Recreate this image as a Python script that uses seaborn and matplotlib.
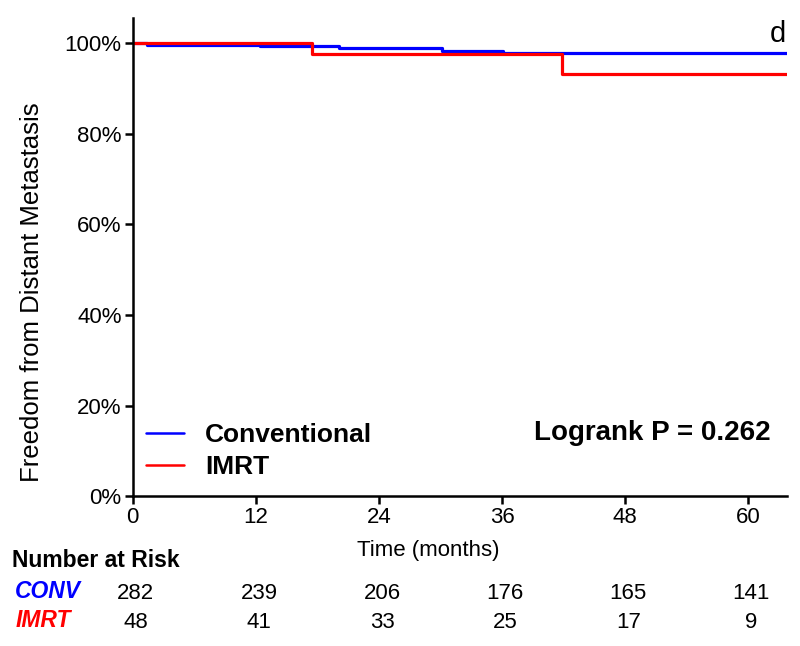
import numpy as np
import pandas as pd
import matplotlib
matplotlib.use("Agg")
import matplotlib.pyplot as plt
import seaborn as sns
from matplotlib.ticker import PercentFormatter

# Kaplan-Meier step points (months, survival fraction)
conv_time = [0, 1.4, 12.4, 20.1, 30.1, 36.1, 63.8]
conv_surv = [1.0, 0.996, 0.993, 0.989, 0.983, 0.978, 0.978]
imrt_time = [0, 17.5, 41.8, 63.8]
imrt_surv = [1.0, 0.975, 0.932, 0.932]

risk_times = [0, 12, 24, 36, 48, 60]
conv_risk = [282, 239, 206, 176, 165, 141]
imrt_risk = [48, 41, 33, 25, 17, 9]

sns.set_theme(style="ticks")
plt.rcParams['font.family'] = ['Liberation Sans', 'DejaVu Sans']
plt.rcParams['text.color'] = 'black'
plt.rcParams['axes.labelcolor'] = 'black'

df = pd.concat([
    pd.DataFrame({"time": conv_time, "surv": conv_surv, "group": "Conventional"}),
    pd.DataFrame({"time": imrt_time, "surv": imrt_surv, "group": "IMRT"}),
])

fig = plt.figure(figsize=(8, 6.46), dpi=100)
ax = fig.add_axes([0.166, 0.232, 0.818, 0.740])

sns.lineplot(data=df, x="time", y="surv", hue="group",
             palette={"Conventional": "#0000ff", "IMRT": "#ff0000"},
             drawstyle="steps-post", linewidth=2.3, ax=ax, estimator=None,
             sort=False)

ax.set_xlim(0, 63.8)
ax.set_ylim(0, 1.055)
ax.set_xticks(risk_times)
ax.set_yticks([0, 0.2, 0.4, 0.6, 0.8, 1.0])
ax.yaxis.set_major_formatter(PercentFormatter(1.0, decimals=0))
ax.tick_params(labelsize=16, width=1.8, length=6, colors="black", pad=2)
for s in ["left", "bottom"]:
    ax.spines[s].set_linewidth(1.8)
    ax.spines[s].set_color("black")
sns.despine(ax=ax)

ax.set_xlabel("Time (months)", fontsize=16)
ax.xaxis.set_label_coords(0.451, -0.092)
ax.set_ylabel("Freedom from Distant Metastasis", fontsize=18.5)
ax.yaxis.set_label_coords(-0.135, 0.427)

leg = ax.legend(loc="upper left", bbox_to_anchor=(0.02, 0.152), frameon=False,
                prop={"weight": "bold", "size": 19}, handlelength=1.45,
                handletextpad=0.8, labelspacing=0.3, borderaxespad=0,
                borderpad=0)
for line in leg.get_lines():
    line.set_linewidth(1.8)

ax.text(0.974, 0.132, "Logrank P = 0.262", transform=ax.transAxes,
        ha="right", va="center", fontsize=20, fontweight="bold")
ax.text(0.998, 0.995, "d", transform=ax.transAxes, ha="right", va="top",
        fontsize=21)

# number at risk table
fig.text(0.015, 0.133, "Number at Risk", fontsize=16.5, fontweight="bold",
         va="center", ha="left")
fig.text(0.019, 0.084, "CONV", fontsize=16.5, fontweight="bold", style="italic",
         color="#0000ff", va="center")
fig.text(0.019, 0.039, "IMRT", fontsize=16.5, fontweight="bold", style="italic",
         color="#ff0000", va="center")
trans = ax.get_xaxis_transform()
for i, t in enumerate(risk_times):
    xt = t + 0.3
    ax.text(xt, -0.203, str(conv_risk[i]), transform=trans, ha="center",
            va="center", fontsize=16, clip_on=False)
    ax.text(xt, -0.264, str(imrt_risk[i]), transform=trans, ha="center",
            va="center", fontsize=16, clip_on=False)

fig.savefig("out.png", dpi=100)
